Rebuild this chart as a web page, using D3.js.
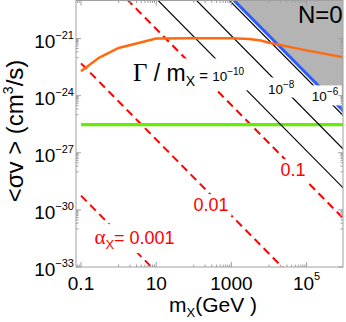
<!DOCTYPE html>
<html>
<head>
<meta charset="utf-8">
<script src="https://cdn.jsdelivr.net/npm/d3@7"></script>
<style>
  body { margin: 0; background: #fff; }
  svg { display: block; }
  text { font-family: "Liberation Sans", Arial, sans-serif; }
</style>
</head>
<body>
<div id="chart"></div>
<script>
// values (m in GeV, sigma v in cm^3/s)
var massTicks = [0.1, 10, 1000, 1e5]
var massTickLabels = ["0.1", "10", "1000", "10|5"]
var sigmaTicks = [1e-33, 1e-30, 1e-27, 1e-24, 1e-21]
var sigmaTickExps = ["\u221233", "\u221230", "\u221227", "\u221224", "\u221221"]

// red dashed lines, constant alpha_X : two end points each
var alphaLabels = ["0.001", "0.01", "0.1"]
var alphaMass = [[0.1, 10], [0.1, 1e5], [0.1, 1e6]]
var alphaSigma = [[5.6e-30, 5.6e-34], [5e-23, 5e-35], [3.2e-17, 3.2e-31]]

// black lines, constant Gamma / m_X
var gammaExps = ["\u221210", "\u22128", "\u22126"]
var gammaMass = [[0.1, 1e6], [0.1, 1e6], [0.1, 1e6]]
var gammaSigma = [[1.26e-15, 1.26e-29], [1.4e-13, 1.4e-27], [7.9e-12, 7.9e-26]]

// blue bound of the N=0 (grey) region
var boundMass = [0.1, 1e6]
var boundSigma = [1.4e-11, 1.4e-25]

// thermal relic cross section (green)
var thermalSigma = 3e-26

// orange curve
var orangeMass = [0.1, 0.3, 1, 10, 100, 1000, 3000, 6000, 1e4, 3e4, 1e5, 1e6]
var orangeSigma = [1.9e-23, 9.8e-23, 3.2e-22, 1.0e-21, 1.05e-21, 1.05e-21, 9.5e-22, 7.9e-22, 6.0e-22, 3.9e-22, 2.4e-22, 1.02e-22]

var width = 346,
    height = 322,
    pLeft = 76, pRight = 343, pTop = 0.5, pBottom = 267

var svg = d3.select("#chart")
  .append("svg")
    .attr("width", width)
    .attr("height", height)

var x = d3.scaleLog().domain([Math.pow(10, -1.133), Math.pow(10, 5.968)]).range([pLeft, pRight])
var y = d3.scaleLog().domain([1e-33, 1e-19]).range([pBottom, pTop])

svg.append("clipPath").attr("id", "plotclip")
  .append("rect")
    .attr("x", pLeft).attr("y", pTop)
    .attr("width", pRight - pLeft).attr("height", pBottom - pTop)

var plot = svg.append("g").attr("clip-path", "url(#plotclip)")

var line = d3.line()
  .x(function(d) { return x(d[0]) })
  .y(function(d) { return y(d[1]) })

function pairs(ms, ss) { return ms.map(function(m, i) { return [m, ss[i]] }) }

// grey region above the blue bound
var boundPts = pairs(boundMass, boundSigma)
var greyPts = boundPts.concat([[boundMass[1], 1e-5], [boundMass[0], 1e-5]])
plot.append("path")
  .attr("d", line(greyPts) + "Z")
  .attr("fill", "#b4b4b4")

// red dashed lines
alphaMass.forEach(function(ms, i) {
  plot.append("path")
    .attr("d", line(pairs(ms, alphaSigma[i])))
    .attr("fill", "none")
    .attr("stroke", "#ff0000")
    .attr("stroke-width", 2)
    .attr("stroke-dasharray", "8,5")
})

// green thermal line
plot.append("path")
  .attr("d", line([[0.1, thermalSigma], [1e6, thermalSigma]]))
  .attr("fill", "none")
  .attr("stroke", "#66ee00")
  .attr("stroke-width", 3.2)

// black lines
gammaMass.forEach(function(ms, i) {
  plot.append("path")
    .attr("d", line(pairs(ms, gammaSigma[i])))
    .attr("fill", "none")
    .attr("stroke", "#000")
    .attr("stroke-width", 1.2)
})

// blue bound
plot.append("path")
  .attr("d", line(boundPts))
  .attr("fill", "none")
  .attr("stroke", "#2a5cff")
  .attr("stroke-width", 3)

// orange curve
plot.append("path")
  .attr("d", line(pairs(orangeMass, orangeSigma)))
  .attr("fill", "none")
  .attr("stroke", "#ff6a10")
  .attr("stroke-width", 2.5)

// labels with white boxes behind them
var labels = svg.append("g")
function boxIt(g, pad) {
  var b = g.node().getBBox()
  g.insert("rect", "text")
    .attr("x", b.x - pad).attr("y", b.y - pad + 2)
    .attr("width", b.width + 2 * pad).attr("height", b.height + 2 * pad - 4)
    .attr("fill", "#fff")
}

// alpha labels
var alphaPos = [[2.65, 3.3e-32], [286, 1.78e-30], [4.35e4, 1.23e-28]]
alphaLabels.forEach(function(lab, i) {
  var g = labels.append("g")
  var t = g.append("text")
    .attr("x", x(alphaPos[i][0]))
    .attr("y", y(alphaPos[i][1]) + 6)
    .attr("text-anchor", "middle")
    .attr("fill", "#ff0000")
    .attr("font-size", 18)
  if (i == 0) {
    t.append("tspan").attr("font-family", "Liberation Serif, serif").attr("font-size", 21).text("\u03b1")
    t.append("tspan").attr("font-size", 13).attr("dy", 5).text("X")
    t.append("tspan").attr("dy", -5).text("= " + lab)
  } else {
    t.text(lab)
  }
  boxIt(g, 3)
})

// Gamma / m labels
var gammaPos = [[2.4, 5.6e-24], [9.4e3, 1.3e-24], [1.38e5, 5e-25]]
gammaExps.forEach(function(ex, i) {
  var g = labels.append("g")
  var t = g.append("text")
    .attr("x", x(gammaPos[i][0]))
    .attr("y", y(gammaPos[i][1]))
    .attr("fill", "#000")
  if (i == 0) {
    t.append("tspan").attr("font-family", "Liberation Serif, serif").attr("font-size", 25).text("\u0393")
    t.append("tspan").attr("font-size", 23).text(" / m")
    t.append("tspan").attr("font-size", 14).attr("dy", 5).text("X")
    t.append("tspan").attr("font-size", 15).attr("dy", -5).text(" =  ")
  }
  t.append("tspan").attr("font-size", 13.5).text("10")
  t.append("tspan").attr("font-size", 10).attr("dy", -6).text(ex)
  boxIt(g, 3)
})

labels.append("text")
  .attr("x", x(5.9e4))
  .attr("y", y(6.2e-21))
  .attr("font-size", 24)
  .text("N=0")

// frame and ticks
var axes = svg.append("g").attr("stroke", "#a0a0a0").attr("fill", "none")
axes.append("rect")
  .attr("x", pLeft).attr("y", pTop)
  .attr("width", pRight - pLeft).attr("height", pBottom - pTop)
  .attr("stroke-width", 1)

function minors(ticks, scale) {
  var out = []
  ticks.forEach(function(t) {
    for (var k = 1; k < 10; k++) out.push(t / 10 * k)
  })
  var dom = scale.domain()
  return out.filter(function(v) { return v >= dom[0] && v <= dom[1] })
}
var xMinor = minors(massTicks, x)
var yMinor = minors(sigmaTicks, y)

massTicks.forEach(function(t) {
  axes.append("line").attr("x1", x(t)).attr("x2", x(t)).attr("y1", pBottom).attr("y2", pBottom - 5)
  axes.append("line").attr("x1", x(t)).attr("x2", x(t)).attr("y1", pTop).attr("y2", pTop + 5)
})
xMinor.forEach(function(t) {
  axes.append("line").attr("x1", x(t)).attr("x2", x(t)).attr("y1", pBottom).attr("y2", pBottom - 2.5)
  axes.append("line").attr("x1", x(t)).attr("x2", x(t)).attr("y1", pTop).attr("y2", pTop + 2.5)
})
sigmaTicks.forEach(function(t) {
  axes.append("line").attr("y1", y(t)).attr("y2", y(t)).attr("x1", pLeft).attr("x2", pLeft + 5)
  axes.append("line").attr("y1", y(t)).attr("y2", y(t)).attr("x1", pRight).attr("x2", pRight - 5)
})
yMinor.forEach(function(t) {
  axes.append("line").attr("y1", y(t)).attr("y2", y(t)).attr("x1", pLeft).attr("x2", pLeft + 2.5)
  axes.append("line").attr("y1", y(t)).attr("y2", y(t)).attr("x1", pRight).attr("x2", pRight - 2.5)
})

// tick labels
massTicks.forEach(function(t, i) {
  var parts = massTickLabels[i].split("|")
  var tx = svg.append("text")
    .attr("x", x(t)).attr("y", 290)
    .attr("text-anchor", "middle")
    .attr("font-size", 19)
  tx.append("tspan").text(parts[0])
  if (parts[1]) tx.append("tspan").attr("font-size", 11).attr("dy", -10).text(parts[1])
})
sigmaTicks.forEach(function(t, i) {
  var tx = svg.append("text")
    .attr("x", 74).attr("y", y(t) + 9)
    .attr("text-anchor", "end")
    .attr("font-size", 19)
  tx.append("tspan").text("10")
  tx.append("tspan").attr("font-size", 11).attr("dy", -9).text(sigmaTickExps[i])
})

// axis titles
var xt = svg.append("text")
  .attr("x", 213).attr("y", 312)
  .attr("text-anchor", "middle")
  .attr("font-size", 21)
xt.append("tspan").text("m")
xt.append("tspan").attr("font-size", 13).attr("dy", 5).text("X")
xt.append("tspan").attr("dy", -5).text("(GeV )")

var yt = svg.append("text")
  .attr("transform", "translate(23,131) rotate(-90)")
  .attr("text-anchor", "middle")
  .attr("font-size", 24)
yt.append("tspan").text("<\u03c3v > (cm")
yt.append("tspan").attr("font-size", 14).attr("dy", -10).text("3")
yt.append("tspan").attr("dy", 10).text("/s)")
</script>
</body>
</html>
